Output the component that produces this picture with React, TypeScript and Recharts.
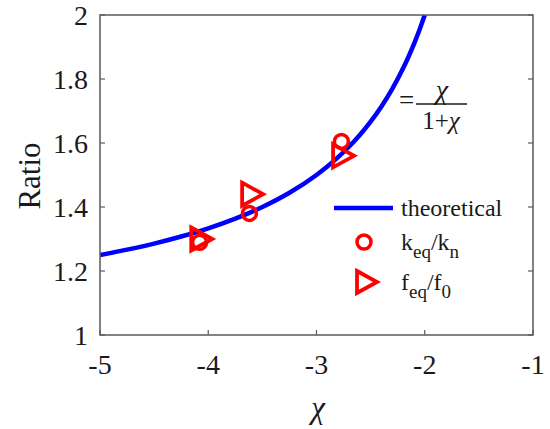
import React from "react";
import {
  ComposedChart,
  Line,
  Scatter,
  XAxis,
  YAxis,
  CartesianGrid,
} from "recharts";

// theoretical curve
const curveX = [-5, -4.75, -4.5, -4.25, -4, -3.75, -3.5, -3.25, -3, -2.9, -2.8, -2.7, -2.6, -2.5, -2.4, -2.3, -2.2, -2.15, -2.1, -2.05, -2.0];
const curveY = [1.25, 1.2667, 1.2857, 1.3077, 1.3333, 1.3636, 1.4, 1.4444, 1.5, 1.5263, 1.5556, 1.5882, 1.625, 1.6667, 1.7143, 1.7692, 1.8333, 1.8696, 1.9091, 1.9524, 2.0];

// k_eq / k_n measurements
const kX = [-4.08, -3.62, -2.77];
const kY = [1.29, 1.38, 1.605];

// f_eq / f_0 measurements
const fX = [-4.06, -3.59, -2.75];
const fY = [1.3, 1.44, 1.56];

const xTicks = [-5, -4, -3, -2, -1];
const yTicks = [1, 1.2, 1.4, 1.6, 1.8, 2];

const curveData = curveX.map((x, i) => ({ x, y: curveY[i] }));
const kData = kX.map((x, i) => ({ x, y: kY[i] }));
const fData = fX.map((x, i) => ({ x, y: fY[i] }));

const FONT = "'Liberation Serif', serif";
const RED = "#ff0000";
const BLUE = "#0000ff";
const AXIS = "#5a5a5a";
const TXT = "#1a1a1a";

const serif = (size: number, italic = false): React.CSSProperties => ({
  fontFamily: FONT,
  fontSize: size,
  fontStyle: italic ? "italic" : "normal",
  fill: TXT,
});

const CircleMark = (props: any) => {
  const { cx, cy } = props;
  if (cx == null || cy == null) return <g />;
  return <circle cx={cx} cy={cy} r={7} fill="none" stroke={RED} strokeWidth={3.5} />;
};

const TriMark = (props: any) => {
  const { cx, cy } = props;
  if (cx == null || cy == null) return <g />;
  const w = 21;
  const h = 23;
  const pts = `${cx - w / 2},${cy - h / 2} ${cx + w / 2},${cy} ${cx - w / 2},${cy + h / 2}`;
  return <polygon points={pts} fill="none" stroke={RED} strokeWidth={3.8} strokeLinejoin="miter" />;
};

const X_MARGIN = 16;
const Y_MARGIN = 10;

const renderBottomTick = (props: any) => {
  const { x, y, payload } = props;
  const axisY = y - X_MARGIN;
  return (
    <g>
      <line x1={x} x2={x} y1={axisY} y2={axisY - 5} stroke={AXIS} strokeWidth={1.2} />
      <text x={x} y={axisY + 39} textAnchor="middle" style={serif(28)}>
        {String(payload.value)}
      </text>
    </g>
  );
};

const renderLeftTick = (props: any) => {
  const { x, y, payload } = props;
  const axisX = x + Y_MARGIN;
  const v = payload.value;
  const label = Number.isInteger(v) ? String(v) : v.toFixed(1);
  return (
    <g>
      <line x1={axisX} x2={axisX + 5} y1={y} y2={y} stroke={AXIS} strokeWidth={1.2} />
      <text x={x - 2} y={y + 10} textAnchor="end" style={serif(28)}>
        {label}
      </text>
    </g>
  );
};

const renderTopTick = (props: any) => {
  const { x, y } = props;
  const axisY = y + X_MARGIN;
  return <line x1={x} x2={x} y1={axisY} y2={axisY + 5} stroke={AXIS} strokeWidth={1.2} />;
};

const renderRightTick = (props: any) => {
  const { x, y } = props;
  const axisX = x - Y_MARGIN;
  return <line x1={axisX} x2={axisX - 5} y1={y} y2={y} stroke={AXIS} strokeWidth={1.2} />;
};

export default function App() {
  return (
    <div style={{ position: "absolute", left: 0, top: 0, width: 550, height: 429, background: "#fff" }}>
      <ComposedChart
        width={550}
        height={429}
        margin={{ top: 15, right: 0, bottom: 64, left: 40 }}
      >
        <CartesianGrid stroke="#e3e3e3" strokeWidth={1.2} horizontalValues={yTicks} verticalValues={xTicks} />
        <XAxis
          xAxisId="b"
          dataKey="x"
          type="number"
          domain={[-5, -1]}
          ticks={xTicks}
          allowDataOverflow
          height={30}
          tickLine={false}
          tickSize={0}
          tickMargin={X_MARGIN}
          tick={renderBottomTick}
          axisLine={false}
          interval={0}
        />
        <XAxis
          xAxisId="t"
          orientation="top"
          dataKey="x"
          type="number"
          domain={[-5, -1]}
          ticks={xTicks}
          allowDataOverflow
          height={0}
          tickLine={false}
          tickSize={0}
          tickMargin={X_MARGIN}
          tick={renderTopTick}
          axisLine={false}
          interval={0}
        />
        <YAxis
          yAxisId="l"
          type="number"
          domain={[1, 2]}
          ticks={yTicks}
          allowDataOverflow
          width={60}
          tickLine={false}
          tickSize={0}
          tickMargin={Y_MARGIN}
          tick={renderLeftTick}
          axisLine={false}
          interval={0}
        />
        <YAxis
          yAxisId="r"
          orientation="right"
          type="number"
          domain={[1, 2]}
          ticks={yTicks}
          allowDataOverflow
          width={17}
          tickLine={false}
          tickSize={0}
          tickMargin={Y_MARGIN}
          tick={renderRightTick}
          axisLine={false}
          interval={0}
        />
        <Line
          xAxisId="b"
          yAxisId="l"
          data={curveData}
          dataKey="y"
          type="monotone"
          stroke={BLUE}
          strokeWidth={4.5}
          dot={false}
          activeDot={false}
          isAnimationActive={false}
        />
        <Scatter xAxisId="b" yAxisId="l" data={kData} dataKey="y" shape={CircleMark} isAnimationActive={false} />
        <Scatter xAxisId="b" yAxisId="l" data={fData} dataKey="y" shape={TriMark} isAnimationActive={false} />
      </ComposedChart>

      {/* plot frame, annotation, legend and titles */}
      <svg width={550} height={429} style={{ position: "absolute", left: 0, top: 0, pointerEvents: "none" }}>
        <rect x={100} y={15} width={433} height={320} fill="none" stroke={AXIS} strokeWidth={1.5} />
        {/* formula */}
        <text x={399} y={109} style={serif(27)}>=</text>
        <text x={442} y={99} textAnchor="middle" style={serif(28, true)}>χ</text>
        <line x1={416} x2={467} y1={104} y2={104} stroke={TXT} strokeWidth={1.3} />
        <text x={441} y={129} textAnchor="middle" style={serif(25)}>
          1+<tspan style={{ fontStyle: "italic" }}>χ</tspan>
        </text>
        {/* legend */}
        <line x1={334} x2={393} y1={208} y2={208} stroke={BLUE} strokeWidth={4.5} />
        <text x={401} y={216} style={serif(24)}>theoretical</text>
        <circle cx={364} cy={242} r={7} fill="none" stroke={RED} strokeWidth={3.5} />
        <text x={401} y={250} style={serif(24)}>
          k<tspan style={{ fontSize: 19 }} dy={8}>eq</tspan><tspan dy={-8}>/k</tspan><tspan style={{ fontSize: 19 }} dy={8}>n</tspan>
        </text>
        <polygon points="357,271 377,282 357,293" fill="none" stroke={RED} strokeWidth={3.8} />
        <text x={401} y={290} style={serif(24)}>
          f<tspan style={{ fontSize: 19 }} dy={8}>eq</tspan><tspan dy={-8}>/f</tspan><tspan style={{ fontSize: 19 }} dy={8}>0</tspan>
        </text>
        {/* axis titles */}
        <text x={318} y={418} textAnchor="middle" style={serif(31, true)}>χ</text>
        <text x={40} y={176} textAnchor="middle" transform="rotate(-90 40 176)" style={serif(31)}>
          Ratio
        </text>
      </svg>
    </div>
  );
}
